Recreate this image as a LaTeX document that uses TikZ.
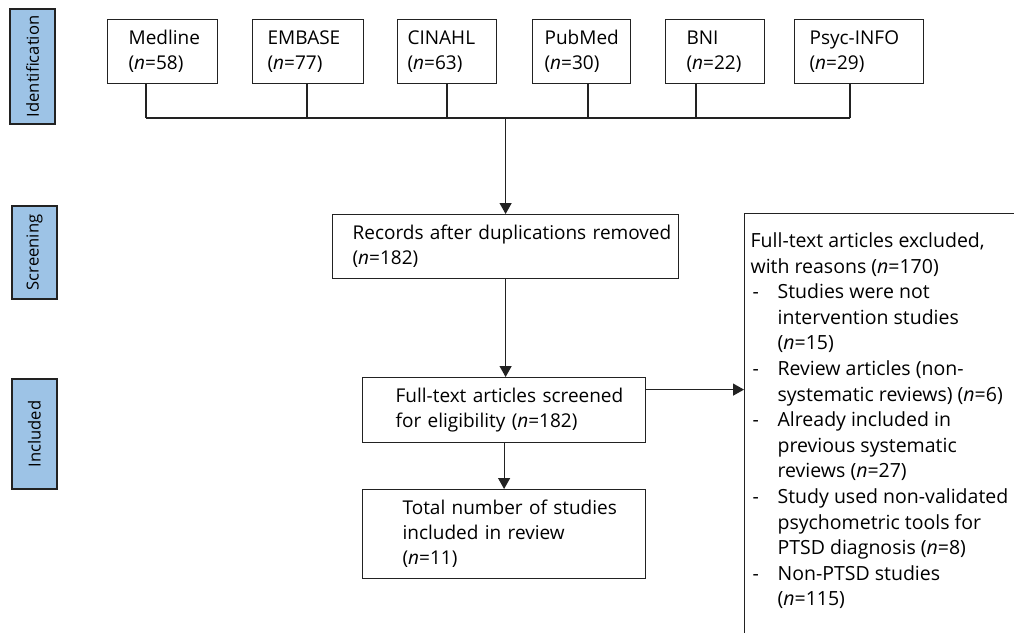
\documentclass[tikz,border=0pt]{standalone}
\usepackage{fontspec}
\setmainfont{Open Sans}
\usetikzlibrary{arrows.meta}
\definecolor{phasefill}{HTML}{9DC3E6}
\definecolor{linecol}{HTML}{222222}
\newcommand\exdash{\makebox[27pt][l]{\hspace{2pt}-}}
\newcommand\exind{\hspace*{27pt}}
\hfuzz=50pt
\begin{document}
\begin{tikzpicture}[x=1pt,y=-1pt,
  font=\fontsize{19}{25}\selectfont,
  bx/.style args={#1/#2/#3}{draw=linecol, line width=1.2pt, anchor=north west, inner sep=0pt,
     minimum width=#1, text width=#1, minimum height=#2, execute at begin node={\leftskip=#3\relax}},
  phase/.style={draw=linecol, line width=1.2pt, fill=phasefill, rotate=90, minimum width=#1,
     minimum height=45pt, inner sep=0pt, font=\fontsize{16.6}{20}\selectfont},
  conn/.style={draw=linecol, line width=1.2pt},
  arr/.style={conn, -{Triangle[length=11pt,width=12pt]}},
]
\useasboundingbox (0,0) rectangle (1014,632);
\clip (0,0) rectangle (1014,632);

% phase labels
\node[phase=115pt] (ident) at (32.5,66.5) {Identification};
\node[phase=93pt] (screen) at (34.5,252.5) {Screening};
\node[phase=110pt] (incl) at (34.5,434) {Included};

% databases
\node[bx=110pt/64pt/21pt] (med) at (107,19) {Medline\\(\textit{n}=58)};
\node[bx=111pt/64pt/15pt] (emb) at (252,19) {EMBASE\\(\textit{n}=77)};
\node[bx=99pt/64pt/10pt]  (cin) at (397,19) {CINAHL\\(\textit{n}=63)};
\node[bx=98pt/64pt/12pt]  (pub) at (532,19) {PubMed\\(\textit{n}=30)};
\node[bx=99pt/64pt/21pt]  (bni) at (665,19) {BNI\\(\textit{n}=22)};
\node[bx=129pt/64pt/15pt] (psy) at (794,19) {Psyc-INFO\\(\textit{n}=29)};

\coordinate (j1) at (146,118);
\coordinate (j2) at (307,118);
\coordinate (j3) at (447,118);
\coordinate (j4) at (588,118);
\coordinate (j5) at (696,118);
\coordinate (j6) at (850,118);
\draw[conn] (j1 |- med.south) -- (j1);
\draw[conn] (j2 |- emb.south) -- (j2);
\draw[conn] (j3 |- cin.south) -- (j3);
\draw[conn] (j4 |- pub.south) -- (j4);
\draw[conn] (j5 |- bni.south) -- (j5);
\draw[conn] (j6 |- psy.south) -- (j6);
\draw[conn] (j1) -- (j6);

% main flow
\node[bx=346pt/64pt/20pt] (rec) at (332,214) {\mbox{Records after duplications removed}\\(\textit{n}=182)};
\node[bx=283pt/65pt/33pt] (full) at (362,377) {\mbox{Full-text articles screened}\\\mbox{for eligibility (\textit{n}=182)}};
\node[bx=283pt/89pt/40pt] (tot) at (362,489) {\mbox{Total number of studies}\\included in review\\(\textit{n}=11)};

\node[draw=linecol, line width=1.2pt, anchor=north west, inner xsep=6pt, inner ysep=19pt,
      font=\fontsize{19.5}{25.6}\selectfont] (excl) at (744,213)
{\parbox[c][440pt][t]{300pt}{%
Full-text articles excluded,\\
with reasons (\textit{n}=170)\\
\exdash Studies were not\\
\exind intervention studies\\
\exind (\textit{n}=15)\\
\exdash Review articles (non-\\
\exind systematic reviews) (\textit{n}=6)\\
\exdash Already included in\\
\exind previous systematic\\
\exind reviews (\textit{n}=27)\\
\exdash Study used non-validated\\
\exind psychometric tools for\\
\exind PTSD diagnosis (\textit{n}=8)\\
\exdash Non-PTSD studies\\
\exind (\textit{n}=115)}};

\draw[arr] (rec.north |- j1) -- (rec.north);
\draw[arr] (rec.south) -- (rec.south |- full.north);
\draw[arr] (full.south) -- (full.south |- tot.north);
\draw[arr] ([yshift=20.5pt]full.east) -- ([yshift=20.5pt]full.east -| excl.west);
\end{tikzpicture}
\end{document}
